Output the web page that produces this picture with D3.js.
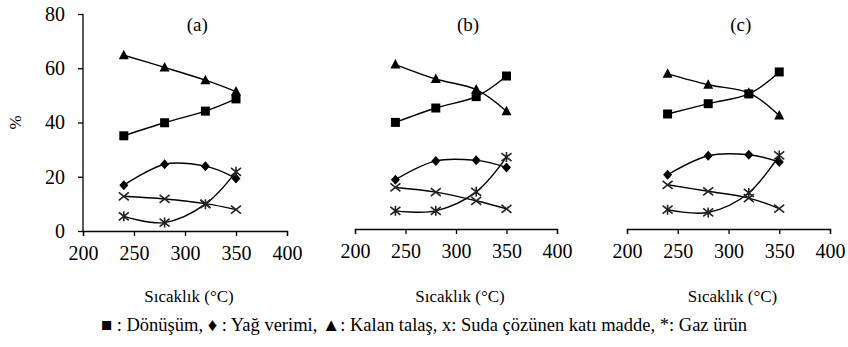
<!DOCTYPE html>
<html><head><meta charset="utf-8">
<script src="https://cdn.jsdelivr.net/npm/d3@7"></script>
<style>body{margin:0;background:#fff;}svg{display:block;}</style></head>
<body><svg id="c" width="848" height="347" font-family="Liberation Serif"></svg>
<script>
// ---- data ----
const temps = [240, 280, 320, 350];
const xTicks = [200, 250, 300, 350, 400];
const yTicks = [0, 20, 40, 60, 80];
const panelLabels = ["(a)", "(b)", "(c)"];
const xTitle = "Sıcaklık (°C)";
const yTitle = "%";
// one array per panel (a, b, c)
const donusum = [[35.1, 39.9, 44.2, 48.7], [39.3, 44.6, 48.8, 56.4], [42.4, 46.2, 49.8, 57.9]];
const yagVerimi = [[16.9, 24.6, 23.9, 19.4], [18.2, 25.1, 25.3, 22.7], [20.0, 27.0, 27.4, 24.7]];
const kalanTalas = [[64.8, 60.3, 55.6, 51.4], [60.6, 55.3, 51.4, 43.4], [57.2, 53.2, 50.2, 41.8]];
const sudaCozunen = [[12.8, 11.8, 10.1, 7.9], [15.3, 13.6, 10.4, 7.4], [16.3, 13.9, 11.4, 7.5]];
const gazUrun = [[5.4, 3.1, 9.9, 21.8], [6.7, 6.7, 13.7, 26.5], [7.1, 6.1, 13.3, 27.1]];
const legendText = "■ : Dönüşüm, ♦ : Yağ verimi, ▲: Kalan talaş, x: Suda çözünen katı madde, *: Gaz ürün";

// ---- layout ----
const FONT = "Liberation Serif";
const svg = d3.select("#c");
const panelsGeom = [
  {x0: 83, x1: 287, yb: 231, yt: 14},
  {x0: 355, x1: 557, yb: 229, yt: 12},
  {x0: 627, x1: 830, yb: 229, yt: 12}
];
const seriesDefs = [
  {data: donusum, marker: "square"},
  {data: yagVerimi, marker: "diamond"},
  {data: kalanTalas, marker: "triangle"},
  {data: sudaCozunen, marker: "cross"},
  {data: gazUrun, marker: "aster"}
];

function drawMarker(g, type, x, y) {
  if (type === "square") {
    g.append("rect").attr("x", x - 4.5).attr("y", y - 4.5).attr("width", 9).attr("height", 9).attr("fill", "#000");
  } else if (type === "diamond") {
    g.append("path").attr("d", `M${x},${y-5}L${x+4.5},${y}L${x},${y+5}L${x-4.5},${y}Z`).attr("fill", "#000");
  } else if (type === "triangle") {
    g.append("path").attr("d", `M${x},${y-5.5}L${x+5},${y+4}L${x-5},${y+4}Z`).attr("fill", "#000");
  } else if (type === "cross") {
    g.append("path").attr("d", `M${x-5},${y-4}L${x+5},${y+4}M${x-5},${y+4}L${x+5},${y-4}`)
      .attr("stroke", "#222").attr("stroke-width", 1.6).attr("fill", "none");
  } else if (type === "aster") {
    g.append("path").attr("d", `M${x-5},${y-4}L${x+5},${y+4}M${x-5},${y+4}L${x+5},${y-4}M${x},${y-5}L${x},${y+5}`)
      .attr("stroke", "#222").attr("stroke-width", 1.6).attr("fill", "none");
  }
}

panelsGeom.forEach((p, i) => {
  const x = d3.scaleLinear().domain([200, 400]).range([p.x0, p.x1]);
  const y = d3.scaleLinear().domain([0, 80]).range([p.yb, p.yt]);
  const g = svg.append("g");

  const xa = g.append("g").attr("transform", `translate(0,${p.yb})`)
    .call(d3.axisBottom(x).tickValues(xTicks).tickSize(5).tickPadding(10).tickFormat(d3.format("d")));
  xa.attr("font-family", FONT).attr("font-size", 20);
  xa.selectAll("path,line").attr("stroke", "#000").attr("stroke-width", 1.3);
  xa.selectAll("text").attr("fill", "#000").attr("font-family", FONT).style("font-family", FONT);

  if (i === 0) {
    const ya = g.append("g").attr("transform", `translate(${p.x0},0)`)
      .call(d3.axisLeft(y).tickValues(yTicks).tickSize(5).tickPadding(13).tickFormat(d3.format("d")));
    ya.attr("font-family", FONT).attr("font-size", 20);
    ya.select(".domain").attr("d", `M-0,${p.yt}V${p.yb}`);
    ya.selectAll("path,line").attr("stroke", "#000").attr("stroke-width", 1.3);
    ya.selectAll("text").attr("fill", "#000").attr("font-family", FONT).style("font-family", FONT);
    svg.append("text").attr("transform", `translate(21,${(p.yb + p.yt) / 2}) rotate(-90)`)
      .attr("text-anchor", "middle").attr("font-size", 17).style("font-family", FONT).text(yTitle);
  }

  const line = d3.line().x((d, k) => x(temps[k])).y(d => y(d)).curve(d3.curveCardinal.tension(0));
  seriesDefs.forEach(s => {
    g.append("path").attr("d", line(s.data[i])).attr("fill", "none").attr("stroke", "#000").attr("stroke-width", 1.4);
  });
  seriesDefs.forEach(s => {
    s.data[i].forEach((v, k) => drawMarker(g, s.marker, x(temps[k]), y(v)));
  });

  svg.append("text").attr("x", x(312)).attr("y", 31).attr("text-anchor", "middle").attr("font-size", 19).style("font-family", FONT).text(panelLabels[i]);
  svg.append("text").attr("x", (p.x0 + p.x1) / 2 + 4).attr("y", 302).attr("text-anchor", "middle").attr("font-size", 17).style("font-family", FONT).text(xTitle);
});

svg.append("text").attr("x", 424).attr("y", 331).attr("text-anchor", "middle").attr("font-size", 18.5).style("font-family", FONT).text(legendText);
</script></body></html>
